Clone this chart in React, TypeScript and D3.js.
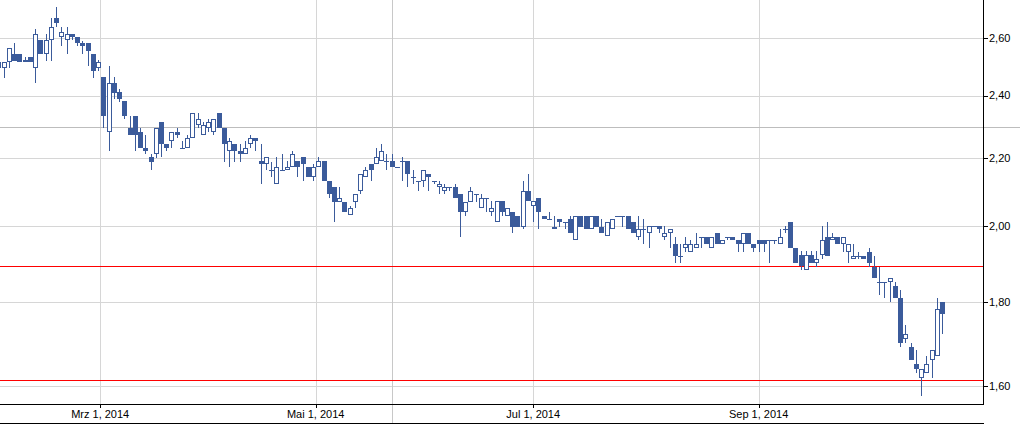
import React from "react";
import * as d3 from "d3";

// OHLC values (trading-day order)
const openP = [
  2.493, 2.493, 2.514, 2.543, 2.543, 2.522, 2.532, 2.493, 2.593, 2.543,
  2.593, 2.673, 2.603, 2.593, 2.614, 2.603, 2.581, 2.581, 2.543, 2.493,
  2.462, 2.281, 2.442, 2.411, 2.383, 2.295, 2.333, 2.281, 2.230, 2.202,
  2.212, 2.313, 2.243, 2.251, 2.281, 2.230, 2.230, 2.261, 2.302, 2.270,
  2.293, 2.281, 2.342, 2.293, 2.220, 2.243, 2.220, 2.212, 2.243, 2.261,
  2.191, 2.181, 2.164, 2.122, 2.164, 2.164, 2.172, 2.191, 2.202, 2.172,
  2.141, 2.172, 2.191, 2.131, 2.114, 2.070, 2.070, 2.032, 2.070, 2.100,
  2.142, 2.181, 2.181, 2.191, 2.191, 2.191, 2.172, 2.191, 2.191, 2.142,
  2.131, 2.131, 2.151, 2.131, 2.114, 2.100, 2.114, 2.114, 2.092, 2.040,
  2.070, 2.092, 2.051, 2.080, 2.040, 2.012, 2.072, 2.030, 2.040, 2.030,
  1.999, 2.102, 2.058, 2.080, 2.030, 2.020, 1.999, 2.020, 2.012, 2.020,
  1.963, 2.030, 2.030, 1.993, 2.030, 1.999, 1.972, 1.993, 2.030, 2.030,
  2.030, 2.012, 1.970, 1.993, 1.982, 2.001, 2.001, 1.970, 1.982, 1.952,
  1.920, 1.941, 1.930, 1.941, 1.970, 1.970, 1.941, 1.982, 1.952, 1.970,
  1.970, 1.961, 1.952, 1.982, 1.952, 1.961, 1.961, 1.961, 1.961, 1.952,
  1.993, 2.012, 1.941, 1.922, 1.881, 1.922, 1.900, 1.922, 1.970, 1.961,
  1.970, 1.951, 1.930, 1.911, 1.920, 1.920, 1.930, 1.890, 1.850, 1.850,
  1.850, 1.841, 1.810, 1.710, 1.690, 1.651, 1.619, 1.630, 1.659, 1.668,
  1.800,
];
const highP = [
  2.516, 2.514, 2.564, 2.581, 2.543, 2.532, 2.532, 2.633, 2.593, 2.614,
  2.673, 2.714, 2.642, 2.642, 2.614, 2.603, 2.590, 2.581, 2.543, 2.522,
  2.462, 2.502, 2.462, 2.422, 2.383, 2.333, 2.333, 2.295, 2.272, 2.213,
  2.293, 2.313, 2.243, 2.281, 2.293, 2.254, 2.272, 2.342, 2.342, 2.313,
  2.322, 2.322, 2.342, 2.293, 2.261, 2.243, 2.243, 2.254, 2.272, 2.261,
  2.243, 2.202, 2.189, 2.202, 2.212, 2.191, 2.222, 2.191, 2.202, 2.172,
  2.181, 2.202, 2.191, 2.131, 2.114, 2.114, 2.070, 2.058, 2.092, 2.151,
  2.172, 2.181, 2.230, 2.243, 2.213, 2.213, 2.172, 2.202, 2.191, 2.162,
  2.131, 2.162, 2.151, 2.131, 2.131, 2.122, 2.114, 2.122, 2.092, 2.070,
  2.114, 2.092, 2.092, 2.080, 2.072, 2.072, 2.072, 2.051, 2.040, 2.030,
  2.131, 2.151, 2.072, 2.080, 2.030, 2.040, 2.030, 2.020, 2.012, 2.030,
  2.030, 2.030, 2.030, 2.030, 2.030, 2.020, 2.012, 2.020, 2.030, 2.030,
  2.030, 2.012, 2.030, 2.020, 2.001, 2.001, 2.001, 2.001, 1.993, 1.970,
  1.952, 1.970, 1.961, 1.982, 1.970, 1.970, 1.970, 1.982, 1.961, 1.970,
  1.970, 1.961, 1.982, 1.982, 1.952, 1.961, 1.961, 1.961, 1.961, 1.993,
  2.001, 2.012, 1.941, 1.932, 1.932, 1.932, 1.932, 2.001, 2.012, 1.982,
  1.970, 1.970, 1.951, 1.951, 1.930, 1.920, 1.941, 1.920, 1.890, 1.850,
  1.861, 1.850, 1.831, 1.742, 1.700, 1.682, 1.640, 1.670, 1.682, 1.810,
  1.800,
];
const lowP = [
  2.485, 2.461, 2.493, 2.520, 2.514, 2.514, 2.514, 2.442, 2.543, 2.520,
  2.520, 2.642, 2.573, 2.543, 2.593, 2.573, 2.543, 2.502, 2.461, 2.484,
  2.293, 2.220, 2.389, 2.380, 2.322, 2.270, 2.220, 2.230, 2.212, 2.162,
  2.201, 2.202, 2.220, 2.230, 2.261, 2.230, 2.230, 2.261, 2.293, 2.270,
  2.281, 2.270, 2.293, 2.189, 2.171, 2.189, 2.189, 2.212, 2.230, 2.220,
  2.120, 2.164, 2.141, 2.122, 2.164, 2.164, 2.172, 2.141, 2.129, 2.141,
  2.129, 2.172, 2.129, 2.080, 2.012, 2.070, 2.039, 2.032, 2.051, 2.092,
  2.142, 2.129, 2.181, 2.191, 2.162, 2.172, 2.172, 2.129, 2.114, 2.120,
  2.100, 2.114, 2.100, 2.122, 2.092, 2.092, 2.100, 2.080, 1.969, 2.030,
  2.070, 2.070, 2.051, 2.040, 2.030, 2.012, 2.030, 2.030, 1.982, 1.999,
  1.993, 2.072, 2.012, 1.993, 2.020, 2.020, 1.993, 1.999, 1.993, 1.982,
  1.963, 1.999, 1.993, 1.993, 1.999, 1.982, 1.972, 1.993, 2.030, 1.999,
  1.993, 1.982, 1.963, 1.950, 1.941, 2.001, 1.982, 1.961, 1.941, 1.900,
  1.900, 1.930, 1.930, 1.941, 1.941, 1.952, 1.941, 1.952, 1.952, 1.961,
  1.961, 1.930, 1.930, 1.952, 1.930, 1.930, 1.930, 1.900, 1.952, 1.952,
  1.982, 1.941, 1.900, 1.883, 1.881, 1.900, 1.890, 1.911, 1.920, 1.961,
  1.951, 1.930, 1.900, 1.911, 1.911, 1.911, 1.890, 1.861, 1.818, 1.810,
  1.800, 1.810, 1.690, 1.700, 1.659, 1.630, 1.578, 1.630, 1.619, 1.668,
  1.722,
];
const closeP = [
  2.516, 2.514, 2.564, 2.520, 2.514, 2.514, 2.514, 2.614, 2.543, 2.593,
  2.642, 2.655, 2.621, 2.614, 2.603, 2.581, 2.573, 2.552, 2.484, 2.514,
  2.331, 2.442, 2.410, 2.389, 2.331, 2.270, 2.270, 2.230, 2.220, 2.189,
  2.293, 2.243, 2.230, 2.281, 2.270, 2.230, 2.261, 2.342, 2.322, 2.302,
  2.313, 2.322, 2.293, 2.243, 2.251, 2.220, 2.212, 2.230, 2.261, 2.251,
  2.181, 2.202, 2.164, 2.172, 2.164, 2.172, 2.212, 2.172, 2.181, 2.141,
  2.172, 2.191, 2.129, 2.092, 2.070, 2.080, 2.039, 2.051, 2.092, 2.151,
  2.162, 2.162, 2.202, 2.222, 2.191, 2.172, 2.172, 2.191, 2.151, 2.142,
  2.131, 2.162, 2.142, 2.131, 2.122, 2.114, 2.114, 2.080, 2.040, 2.070,
  2.100, 2.092, 2.080, 2.080, 2.051, 2.072, 2.040, 2.051, 1.999, 1.999,
  2.102, 2.072, 2.072, 2.040, 2.020, 2.020, 1.993, 2.012, 2.012, 1.982,
  2.030, 1.999, 1.993, 2.030, 1.999, 1.982, 2.012, 2.020, 2.030, 2.030,
  1.993, 1.982, 1.993, 1.993, 2.001, 2.001, 1.993, 1.982, 1.993, 1.920,
  1.920, 1.952, 1.952, 1.952, 1.970, 1.952, 1.970, 1.952, 1.961, 1.970,
  1.961, 1.952, 1.982, 1.952, 1.941, 1.952, 1.952, 1.961, 1.961, 1.970,
  1.993, 1.941, 1.900, 1.892, 1.922, 1.900, 1.911, 1.963, 1.920, 1.970,
  1.951, 1.970, 1.951, 1.920, 1.920, 1.911, 1.900, 1.861, 1.850, 1.850,
  1.861, 1.810, 1.700, 1.722, 1.659, 1.640, 1.640, 1.651, 1.682, 1.781,
  1.770,
];

const yTicks = [1.6, 1.8, 2.0, 2.2, 2.4, 2.6];
const xTickPos = [19.4, 60.5, 102, 145];
const xTickLabels = ["Mrz 1, 2014", "Mai 1, 2014", "Jul 1, 2014", "Sep 1, 2014"];
const refLines = [1.8915, 1.6135];
const crossIndex = 75;
const crossValue = 2.296;

export default function App() {
  const W = 1020;
  const H = 424;
  const plotR = 983;
  const plotB = 404;
  const x = d3.scaleLinear().domain([0.29, 187.8]).range([0, plotR]);
  const y = d3.scaleLog().domain([1.561, 2.742]).range([plotB, 0]);
  const color = "#3b5b9b";
  const font = "'Liberation Sans', Arial, sans-serif";
  const fmt = (v: number) => v.toFixed(2).replace(".", ",");
  const py = (v: number) => Math.round(y(v)) + 0.5;
  const px = (i: number) => Math.round(x(i)) + 0.5;

  const candles = openP.map((o, i) => {
    const h = highP[i];
    const l = lowP[i];
    const c = closeP[i];
    const cx = Math.round(x(i));
    const top = Math.round(y(Math.max(o, c)));
    const bot = Math.round(y(Math.min(o, c)));
    const up = c > o;
    let body: React.ReactNode;
    if (bot - top < 1) {
      body = (
        <line x1={cx - 2} x2={cx + 3} y1={top + 0.5} y2={top + 0.5} stroke={color} strokeWidth={1} />
      );
    } else if (up) {
      body = (
        <rect x={cx - 1.5} y={top + 0.5} width={4} height={Math.max(0, bot - top - 1)} fill="#fff" stroke={color} strokeWidth={1} />
      );
    } else {
      body = <rect x={cx - 2} y={top} width={5} height={bot - top} fill={color} />;
    }
    return (
      <g key={i}>
        <line x1={cx + 0.5} x2={cx + 0.5} y1={Math.round(y(h))} y2={Math.round(y(l))} stroke={color} strokeWidth={1} />
        {body}
      </g>
    );
  });

  return (
    <>
      <style>{`body{margin:0}`}</style>
      <svg width={W} height={H} style={{ display: "block", background: "#fff" }}>
        {/* grid */}
        {yTicks.map((t) => (
          <line key={"gy" + t} x1={0} x2={plotR} y1={py(t)} y2={py(t)} stroke="#d6d6d6" strokeWidth={1} />
        ))}
        {xTickPos.map((t) => (
          <line key={"gx" + t} x1={px(t)} x2={px(t)} y1={0} y2={plotB} stroke="#d6d6d6" strokeWidth={1} />
        ))}
        {/* crosshair */}
        <line x1={0} x2={W} y1={py(crossValue)} y2={py(crossValue)} stroke="#bdbdbd" strokeWidth={1} />
        <line x1={px(crossIndex)} x2={px(crossIndex)} y1={0} y2={H - 1} stroke="#c8c8c8" strokeWidth={1} />
        {/* reference lines */}
        {refLines.map((r) => (
          <line key={"r" + r} x1={0} x2={plotR} y1={py(r)} y2={py(r)} stroke="#ff0000" strokeWidth={1} />
        ))}
        {/* candles */}
        {candles}
        {/* axes */}
        <line x1={plotR + 0.5} x2={plotR + 0.5} y1={0} y2={plotB + 1} stroke="#000" strokeWidth={1} />
        <line x1={0} x2={plotR + 1} y1={plotB + 0.5} y2={plotB + 0.5} stroke="#000" strokeWidth={1} />
        <line x1={0} x2={plotR + 1} y1={H - 0.5} y2={H - 0.5} stroke="#000" strokeWidth={1} />
        {yTicks.map((t) => (
          <g key={"ty" + t}>
            <line x1={plotR + 1} x2={plotR + 5} y1={py(t)} y2={py(t)} stroke="#000" strokeWidth={1} />
            <text x={plotR + 6} y={y(t)} dy="0.35em" fontFamily={font} fontSize={11} fill="#000">
              {fmt(t)}
            </text>
          </g>
        ))}
        {xTickPos.map((t, k) => (
          <g key={"tx" + t}>
            <line x1={px(t)} x2={px(t)} y1={plotB} y2={plotB + 4} stroke="#000" strokeWidth={1} />
            <text x={x(t)} y={418} textAnchor="middle" fontFamily={font} fontSize={11} fill="#000">
              {xTickLabels[k]}
            </text>
          </g>
        ))}
      </svg>
    </>
  );
}
